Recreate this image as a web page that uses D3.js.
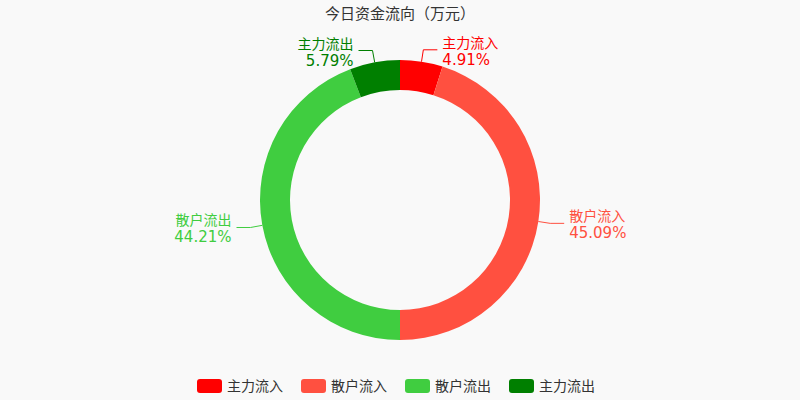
<!DOCTYPE html>
<html><head><meta charset="utf-8">
<script src="https://cdn.jsdelivr.net/npm/d3@7"></script>
<style>body{margin:0;background:#f9f9f9}svg{font-family:"DejaVu Sans","Noto Sans CJK SC",sans-serif}</style>
</head><body><svg id="c" width="800" height="400"></svg>
<script>
var names = ["主力流入", "散户流入", "散户流出", "主力流出"];
var values = [4.91, 45.09, 44.21, 5.79];
var colors = ["#ff0000", "#ff5040", "#40cd40", "#007f00"];

var svg = d3.select("#c");
svg.append("text").attr("x", 400).attr("y", 19).attr("text-anchor", "middle")
	.attr("font-size", 15).attr("fill", "#333").text("今日资金流向（万元）");

var cx = 400, cy = 200, r0 = 110, r1 = 140;
var g = svg.append("g").attr("transform", "translate(" + cx + "," + cy + ")");
var pie = d3.pie().sort(null).value(function (d) { return d; });
var arcs = pie(values);
var arc = d3.arc().innerRadius(r0).outerRadius(r1);
g.selectAll("path").data(arcs).enter().append("path")
	.attr("d", arc).attr("fill", function (d, i) { return colors[i]; });

arcs.forEach(function (d, i) {
	var a = (d.startAngle + d.endAngle) / 2;
	var sx = Math.sin(a), sy = -Math.cos(a);
	var p1 = [sx * r1, sy * r1], p2 = [sx * (r1 + 12), sy * (r1 + 12)];
	var right = sx >= 0;
	var p3 = [p2[0] + (right ? 14 : -14), p2[1]];
	g.append("polyline").attr("points", [p1, p2, p3].join(" "))
		.attr("fill", "none").attr("stroke", colors[i]);
	var tx = p3[0] + (right ? 5 : -5);
	var t = g.append("text").attr("x", tx).attr("y", p3[1])
		.attr("text-anchor", right ? "start" : "end").attr("fill", colors[i]).attr("font-size", 14);
	t.append("tspan").attr("x", tx).attr("dy", -2).text(names[i]);
	t.append("tspan").attr("x", tx).attr("dy", 17).attr("font-size", 15).text(values[i].toFixed(2) + "%");
});

var lx = [197, 301, 405, 509];
var lg = svg.append("g");
names.forEach(function (n, i) {
	lg.append("rect").attr("x", lx[i]).attr("y", 379).attr("width", 25).attr("height", 14)
		.attr("rx", 3).attr("fill", colors[i]);
	lg.append("text").attr("x", lx[i] + 30).attr("y", 391).attr("font-size", 14)
		.attr("fill", "#333").text(n);
});
</script></body></html>
